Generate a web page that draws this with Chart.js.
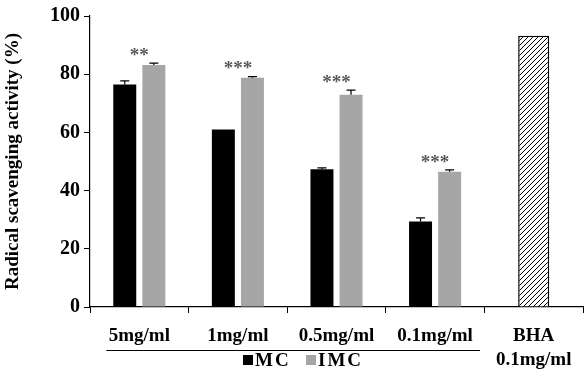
<!DOCTYPE html>
<html>
<head>
<meta charset="utf-8">
<script src="https://cdn.jsdelivr.net/npm/chart.js@4"></script>
<style>
  body { margin: 0; background: #fff; }
</style>
</head>
<body>
<canvas id="myChart" width="585" height="374"></canvas>
<script>
var categories = ['5mg/ml', '1mg/ml', '0.5mg/ml', '0.1mg/ml', ['BHA', '0.1mg/ml']];
var mcValues  = [76.5, 61.0, 47.3, 29.4, null];
var mcErr     = [1.2, 0, 0.5, 1.2];
var imcValues = [83.2, 78.8, 72.9, 46.5, null];
var imcErr    = [0.6, 0.4, 1.6, 0.6];
var bhaValues = [null, null, null, null, 93.2];
var stars     = ['**', '***', '***', '***'];
var yTicks    = [0, 20, 40, 60, 80, 100];

var serif = "'Liberation Serif', 'Times New Roman', serif";

// diagonal hatch for the BHA bar
var hatch = (function () {
  var c = document.createElement('canvas');
  c.width = 5; c.height = 5;
  var g = c.getContext('2d');
  g.fillStyle = '#fff';
  g.fillRect(0, 0, 5, 5);
  g.strokeStyle = '#000';
  g.lineWidth = 1;
  g.beginPath();
  g.moveTo(0, 5); g.lineTo(5, 0);
  g.moveTo(-1, 1); g.lineTo(1, -1);
  g.moveTo(4, 6); g.lineTo(6, 4);
  g.stroke();
  return g.createPattern(c, 'repeat');
})();

var extras = {
  id: 'extras',
  afterDatasetsDraw: function (chart) {
    var ctx = chart.ctx;
    var y = chart.scales.y;
    var x = chart.scales.x;
    var sets = [[0, mcValues, mcErr], [1, imcValues, imcErr]];
    ctx.save();
    ctx.strokeStyle = '#000';
    ctx.lineWidth = 1.2;
    sets.forEach(function (s) {
      var meta = chart.getDatasetMeta(s[0]);
      for (var i = 0; i < 4; i++) {
        if (!s[2][i]) continue;
        var bar = meta.data[i];
        var top = y.getPixelForValue(s[1][i]);
        var et = y.getPixelForValue(s[1][i] + s[2][i]);
        ctx.beginPath();
        ctx.moveTo(bar.x, top);
        ctx.lineTo(bar.x, et);
        ctx.moveTo(bar.x - 4.5, et);
        ctx.lineTo(bar.x + 4.5, et);
        ctx.stroke();
      }
    });
    // significance marks
    ctx.fillStyle = '#5a5a5a';
    ctx.font = 'bold 19px ' + serif;
    ctx.textAlign = 'center';
    ctx.textBaseline = 'middle';
    for (var i = 0; i < 4; i++) {
      var et2 = y.getPixelForValue(imcValues[i] + imcErr[i]);
      ctx.fillText(stars[i], x.getPixelForValue(i), et2 - 7);
    }
    // group underline below the first four labels
    ctx.strokeStyle = '#000';
    ctx.lineWidth = 1;
    ctx.beginPath();
    ctx.moveTo(x.getPixelForValue(0) - 33, 350.5);
    ctx.lineTo(x.getPixelForValue(3) + 45, 350.5);
    ctx.stroke();
    // legend for the two grouped series
    ctx.font = 'bold 19px ' + serif;
    ctx.letterSpacing = '2px';
    ctx.textAlign = 'left';
    ctx.textBaseline = 'middle';
    var items = [[chart.data.datasets[0], 243], [chart.data.datasets[1], 306]];
    items.forEach(function (it) {
      ctx.fillStyle = it[0].backgroundColor;
      ctx.fillRect(it[1], 355, 10, 10);
      ctx.fillStyle = '#000';
      ctx.fillText(it[0].label, it[1] + 12, 361);
    });
    ctx.restore();
  }
};

var ctx = document.getElementById('myChart').getContext('2d');
var chart = new Chart(ctx, {
  type: 'bar',
  data: {
    labels: categories,
    datasets: [{
      label: 'MC',
      data: mcValues,
      backgroundColor: '#000000',
      barPercentage: 0.79,
      categoryPercentage: 0.59
    }, {
      label: 'IMC',
      data: imcValues,
      backgroundColor: '#a6a6a6',
      barPercentage: 0.79,
      categoryPercentage: 0.59
    }, {
      label: 'BHA',
      data: bhaValues,
      grouped: false,
      backgroundColor: hatch,
      borderColor: '#000',
      borderWidth: 1.5,
      barPercentage: 0.315,
      categoryPercentage: 1
    }]
  },
  options: {
    responsive: false,
    animation: false,
    devicePixelRatio: 1,
    layout: { padding: { top: 6, right: 2, left: 0, bottom: 0 } },
    plugins: {
      tooltip: { enabled: false },
      legend: { display: false }
    },
    scales: {
      x: {
        afterFit: function (axis) { axis.height = 67; },
        border: { color: '#000', width: 1.2 },
        grid: { offset: true, drawOnChartArea: false, tickLength: 6, color: '#000' },
        ticks: {
          color: '#000',
          padding: 11,
          maxRotation: 0,
          autoSkip: false,
          font: { family: serif, size: 19, weight: 'bold', lineHeight: 1.25 }
        }
      },
      y: {
        min: 0,
        max: 100,
        afterFit: function (axis) { axis.width = 90; },
        afterBuildTicks: function (axis) { axis.ticks = yTicks.map(function (v) { return { value: v }; }); },
        border: { color: '#000', width: 1.2 },
        grid: { drawOnChartArea: false, tickLength: 6, color: '#000' },
        ticks: {
          color: '#000',
          padding: 4,
          font: { family: serif, size: 20, weight: 'bold' }
        },
        title: {
          display: true,
          text: 'Radical scavenging activity (%)',
          color: '#000',
          padding: { top: 2, bottom: 2 },
          font: { family: serif, size: 19, weight: 'bold' }
        }
      }
    }
  },
  plugins: [extras]
});
</script>
</body>
</html>
